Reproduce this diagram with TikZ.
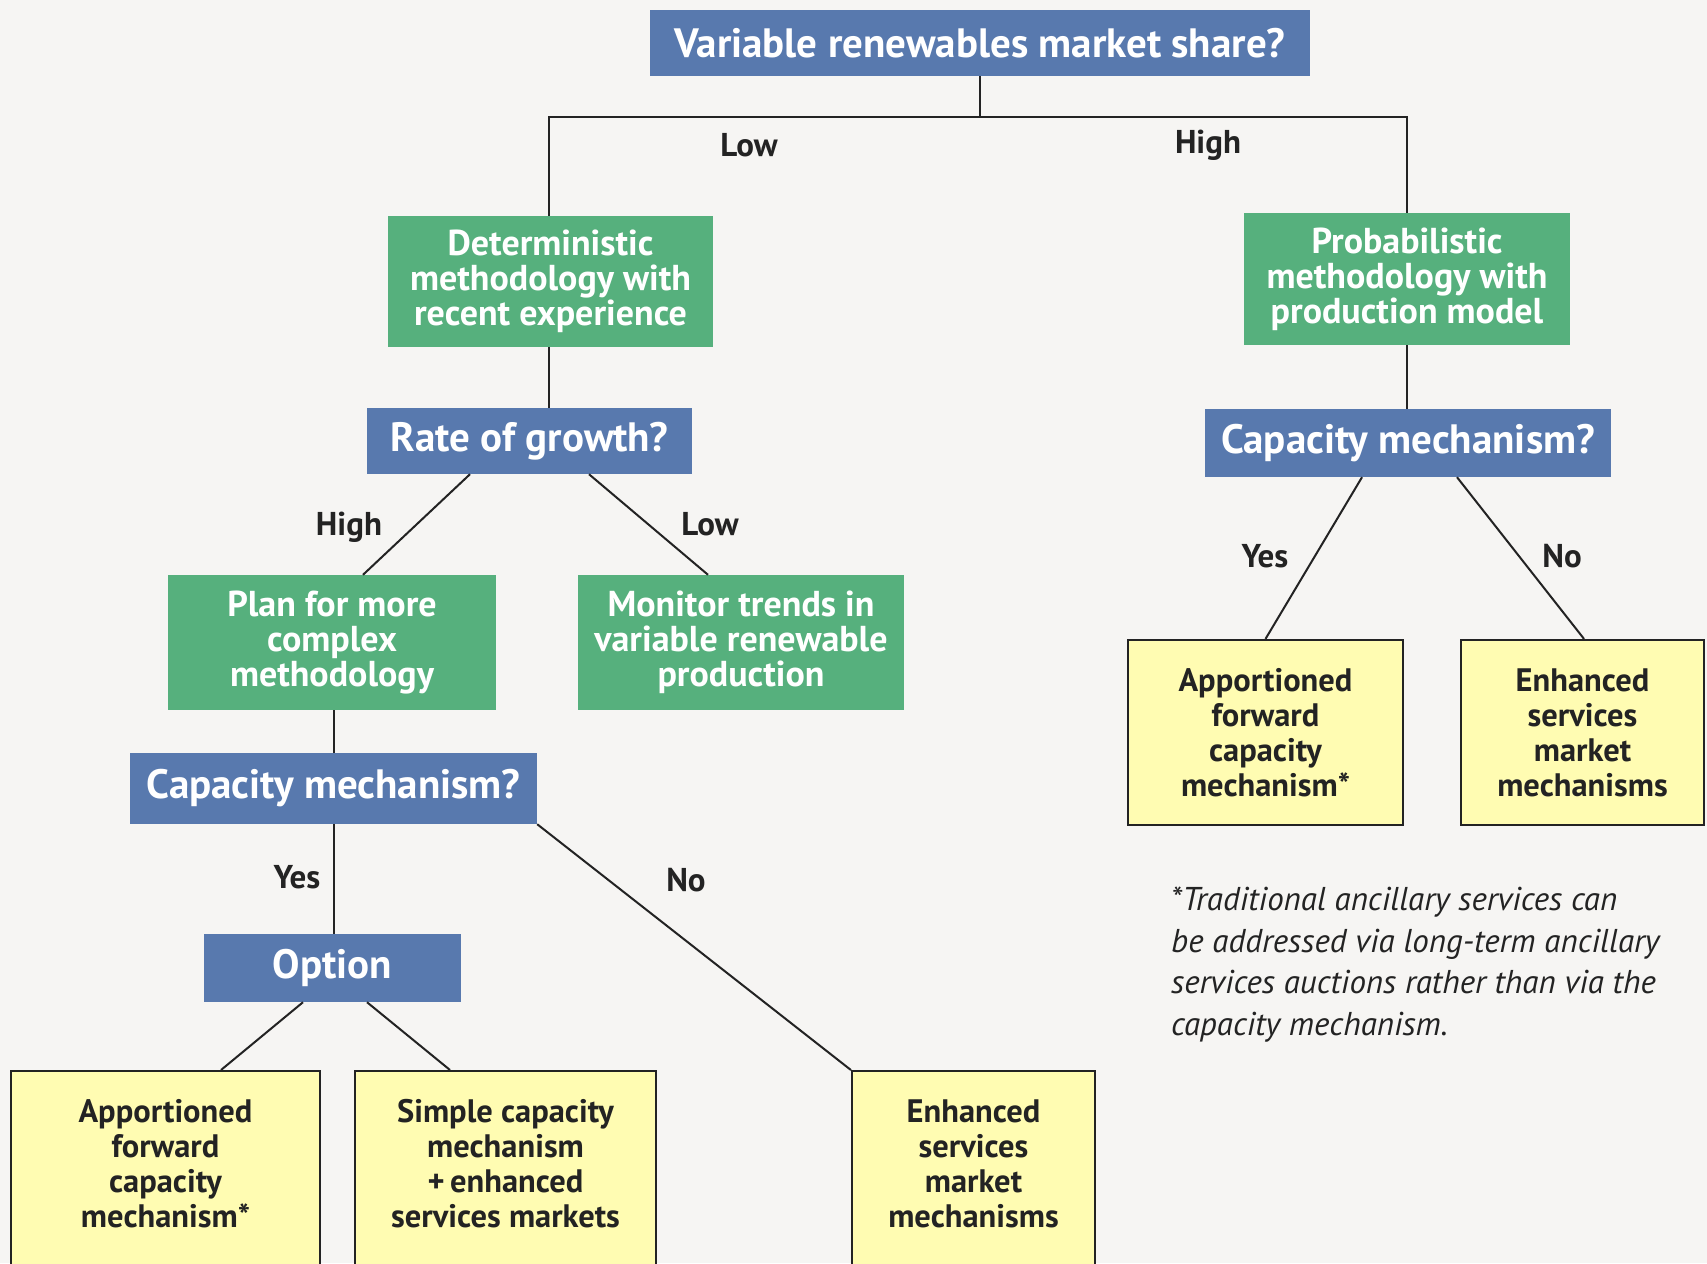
\documentclass[tikz,border=0pt]{standalone}
\usepackage{fontspec}
\setmainfont{PT Sans}
\definecolor{bg}{RGB}{246,245,243}
\definecolor{qblue}{RGB}{88,121,174}
\definecolor{agreen}{RGB}{86,176,125}
\definecolor{ryellow}{RGB}{255,252,178}
\definecolor{lineclr}{RGB}{35,35,35}
\tikzset{
  question/.style={rectangle, fill=qblue, text=white, font=\fontsize{41}{44}\selectfont\bfseries, inner sep=0pt, align=center},
  action/.style={rectangle, fill=agreen, text=white, font=\fontsize{36}{35}\selectfont\bfseries, inner sep=0pt, align=center},
  result/.style={rectangle, fill=ryellow, draw=lineclr, line width=2.2pt, text=lineclr, font=\fontsize{32.5}{35}\selectfont\bfseries, inner sep=0pt, align=center},
  branchlbl/.style={text=lineclr, font=\fontsize{33}{35}\selectfont\bfseries, inner sep=0pt},
  conn/.style={draw=lineclr, line width=2pt}
}
\begin{document}
\begin{tikzpicture}[x=1pt,y=-1pt]
\fill[bg] (0,0) rectangle (1707,1263);
\useasboundingbox (0,0) rectangle (1707,1263);
\clip (0,0) rectangle (1707,1263);
% question nodes
\node[question, minimum width=660, minimum height=66] (top) at (980,43) {Variable renewables market share?};
\node[question, minimum width=325, minimum height=66] (rate) at (529.5,441) {Rate of growth?};
\node[question, minimum width=406, minimum height=68] (capR) at (1408,443) {Capacity mechanism?};
\node[question, minimum width=407, minimum height=71] (capL) at (333.5,788.5) {Capacity mechanism?};
\node[question, minimum width=257, minimum height=68] (opt) at (332.5,968) {Option};
% action nodes
\node[action, minimum width=325, minimum height=131] (det) at (550.5,281.5) {Deterministic\\methodology with\\recent experience};
\node[action, minimum width=326, minimum height=132] (prob) at (1407,279) {Probabilistic\\methodology with\\production model};
\node[action, minimum width=328, minimum height=135] (plan) at (332,642.5) {Plan for more\\complex\\methodology};
\node[action, minimum width=326, minimum height=135] (mon) at (741,642.5) {Monitor trends in\\variable renewable\\production};
% result nodes
\node[result, minimum width=275, minimum height=185] (r1) at (1265.5,732.5) {Apportioned\\forward\\capacity\\mechanism*};
\node[result, minimum width=243, minimum height=185] (r2) at (1582.5,732.5) {Enhanced\\services\\market\\mechanisms};
\node[result, anchor=north, minimum width=309, text height=156, text depth=200] (b1) at (165.5,1070) {Apportioned\\forward\\capacity\\mechanism*};
\node[result, anchor=north, minimum width=301, text height=156, text depth=200] (b2) at (505.5,1070) {Simple capacity\\mechanism\\+\,enhanced\\services markets};
\node[result, anchor=north, minimum width=243, text height=156, text depth=200] (b3) at (973.5,1070) {Enhanced\\services\\market\\mechanisms};
% connectors
\coordinate (bar) at (980,116.5);
\draw[conn] (top.south) -- (bar);
\draw[conn] ([xshift=-1.5pt]det.north) |- (bar) -| (prob.north);
\draw[conn] ([xshift=-1.5pt]det.south) -- ([xshift=-1.5pt]det.south |- rate.north);
\draw[conn] ([xshift=-59.5pt]rate.south) -- ([xshift=31pt]plan.north);
\draw[conn] ([xshift=59.5pt]rate.south) -- ([xshift=-33pt]mon.north);
\draw[conn] ([xshift=1.5pt]plan.south) -- ([xshift=1.5pt]plan.south |- capL.north);
\draw[conn] ([xshift=1.5pt]plan.south |- capL.south) -- ([xshift=1.5pt]plan.south |- opt.north);
\draw[conn] (capL.south east) -- (b3.north west);
\draw[conn] ([xshift=-29.5pt]opt.south) -- ([xshift=55.5pt]b1.north);
\draw[conn] ([xshift=34.5pt]opt.south) -- ([xshift=-55.5pt]b2.north);
\draw[conn] (prob.south) -- (prob.south |- capR.north);
\draw[conn] ([xshift=-46pt]capR.south) -- (r1.north);
\draw[conn] ([xshift=49pt]capR.south) -- ([xshift=1.5pt]r2.north);
% branch labels
\node[branchlbl] (lLow) at (749,145) {Low};
\node[branchlbl] (lHigh) at (1208,145) {High};
\node[branchlbl] (lHigh2) at (349,527) {High};
\node[branchlbl] (lLow2) at (710,524) {Low};
\node[branchlbl] (lYes) at (297,877) {Yes};
\node[branchlbl] (lNo) at (686,880) {No};
\node[branchlbl] (lYes2) at (1265,556) {Yes};
\node[branchlbl] (lNo2) at (1562,556) {No};
% footnote
\node[anchor=north west, inner sep=0pt, align=left, text=lineclr, font=\fontsize{33}{41.4}\selectfont\itshape] (note) at (1171,887) {*Traditional ancillary services can\\be addressed via long-term ancillary\\services auctions rather than via the\\capacity mechanism.};
\end{tikzpicture}
\end{document}
